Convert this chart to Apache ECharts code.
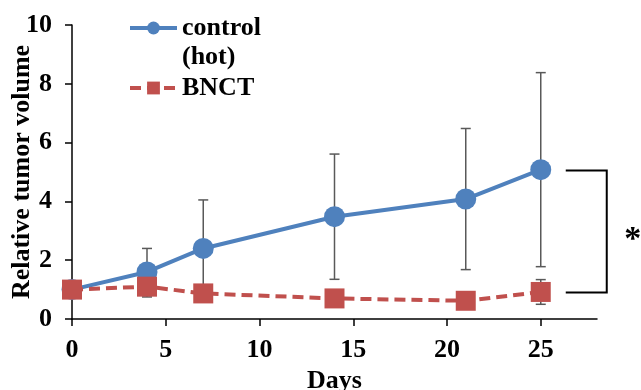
<!DOCTYPE html>
<html>
<head>
<meta charset="utf-8">
<script src="https://cdn.jsdelivr.net/npm/echarts@6/dist/echarts.min.js"></script>
<style>
html,body{margin:0;padding:0;background:#fff;}
#chart{width:641px;height:390px;}
</style>
</head>
<body>
<div id="chart"></div>
<script>
// ---- data ----
var days = [0, 4, 7, 14, 21, 25];
var controlValues = [1.0, 1.6, 2.4, 3.48, 4.08, 5.08];
var controlErr = [0, 0.8, 1.65, 2.13, 2.4, 3.3];
var bnctValues = [1.0, 1.1, 0.87, 0.7, 0.62, 0.92];
var bnctErr = [0, 0.35, 0.25, 0.2, 0.2, 0.42];
var xTicks = [0, 5, 10, 15, 20, 25];
var yTicks = [0, 2, 4, 6, 8, 10];
var seriesNames = ['control', 'BNCT'];
var xTitle = 'Days';
var yTitle = 'Relative tumor volume';

var BLUE = '#4F81BD', RED = '#C0504D', GREY = '#595959';
var FONT = '"Liberation Serif","Times New Roman",serif';

function pairs(vals) { return days.map(function (d, i) { return [d, vals[i]]; }); }
function errData(vals, errs) { return days.map(function (d, i) { return [d, vals[i], errs[i]]; }); }

function errRender(params, api) {
  var x = api.value(0), y = api.value(1), e = api.value(2);
  if (!e) return null;
  var top = api.coord([x, y + e]);
  var bot = api.coord([x, y - e]);
  var hw = 5;
  var st = { stroke: GREY, lineWidth: 1.5 };
  return {
    type: 'group',
    children: [
      { type: 'line', shape: { x1: top[0], y1: top[1], x2: bot[0], y2: bot[1] }, style: st },
      { type: 'line', shape: { x1: top[0] - hw, y1: top[1], x2: top[0] + hw, y2: top[1] }, style: st },
      { type: 'line', shape: { x1: bot[0] - hw, y1: bot[1], x2: bot[0] + hw, y2: bot[1] }, style: st }
    ]
  };
}

var chart = echarts.init(document.getElementById('chart'), null, { renderer: 'canvas' });
var option = {
  backgroundColor: '#fff',
  animation: false,
  textStyle: { fontFamily: FONT },
  grid: { left: 72, right: 44, top: 25, bottom: 71, containLabel: false, outerBoundsMode: 'none' },
  legend: {
    orient: 'vertical',
    left: 128, top: 13, padding: 0,
    itemWidth: 47, itemHeight: 16, itemGap: 30,
    data: seriesNames,
    lineStyle: { width: 4 },
    textStyle: { fontFamily: FONT, fontSize: 26, fontWeight: 'bold', color: '#000', lineHeight: 30 },
    selectedMode: false
  },
  xAxis: {
    type: 'value', min: 0, max: 28, interval: 5,
    name: xTitle, nameLocation: 'middle', nameGap: 48,
    nameTextStyle: { fontFamily: FONT, fontSize: 26, fontWeight: 'bold', color: '#000' },
    axisLine: { lineStyle: { color: '#000', width: 1.5 } },
    axisTick: { show: true, length: 7, lineStyle: { color: '#000', width: 1.5 }, customValues: xTicks },
    axisLabel: { fontFamily: FONT, fontSize: 26, fontWeight: 'bold', color: '#000', margin: 18, customValues: xTicks },
    splitLine: { show: false }
  },
  yAxis: {
    type: 'value', min: 0, max: 10, interval: 2,
    name: yTitle, nameLocation: 'middle', nameGap: 37, nameMoveOverlap: false,
    nameTextStyle: { fontFamily: FONT, fontSize: 26, fontWeight: 'bold', color: '#000' },
    axisLine: { show: true, lineStyle: { color: '#000', width: 1.5 } },
    axisTick: { show: true, length: 7, lineStyle: { color: '#000', width: 1.5 }, customValues: yTicks },
    axisLabel: { fontFamily: FONT, fontSize: 26, fontWeight: 'bold', color: '#000', margin: 20, customValues: yTicks },
    splitLine: { show: false }
  },
  series: [
    { type: 'custom', name: 'errC', renderItem: errRender, data: errData(controlValues, controlErr), z: 1, silent: true },
    { type: 'custom', name: 'errB', renderItem: errRender, data: errData(bnctValues, bnctErr), z: 1, silent: true },
    {
      name: seriesNames[0], type: 'line', data: pairs(controlValues), z: 3,
      symbol: 'circle', symbolSize: 21,
      lineStyle: { color: BLUE, width: 4 },
      itemStyle: { color: BLUE }
    },
    {
      name: seriesNames[1], type: 'line', data: pairs(bnctValues), z: 4,
      symbol: 'rect', symbolSize: 20,
      lineStyle: { color: RED, width: 4, type: [11, 6] },
      itemStyle: { color: RED }
    }
  ]
};
chart.setOption(option);

function drawAnnotations() {
  var last = days.length - 1;
  var pTop = chart.convertToPixel({ gridIndex: 0 }, [days[last], controlValues[last]]);
  var pBot = chart.convertToPixel({ gridIndex: 0 }, [days[last], bnctValues[last]]);
  var x0 = pTop[0] + 25, x1 = pTop[0] + 66;
  var yt = Math.round(pTop[1]) + 0.5, yb = Math.round(pBot[1]) + 0.5;
  chart.setOption({
    graphic: [
      { type: 'polyline', shape: { points: [[x0, yt], [x1, yt], [x1, yb], [x0, yb]] }, style: { stroke: '#000', lineWidth: 2, fill: null } },
      { type: 'text', x: x1 + 26, y: (yt + yb) / 2 + 9, style: { text: '*', fontFamily: FONT, fontSize: 34, fontWeight: 'bold', fill: '#000', align: 'center', verticalAlign: 'middle' } },
      { type: 'text', x: 182, y: 57, style: { text: '(hot)', fontFamily: FONT, fontSize: 26, fontWeight: 'bold', fill: '#000', align: 'left', verticalAlign: 'middle' } }
    ]
  });
}
drawAnnotations();
</script>
</body>
</html>
